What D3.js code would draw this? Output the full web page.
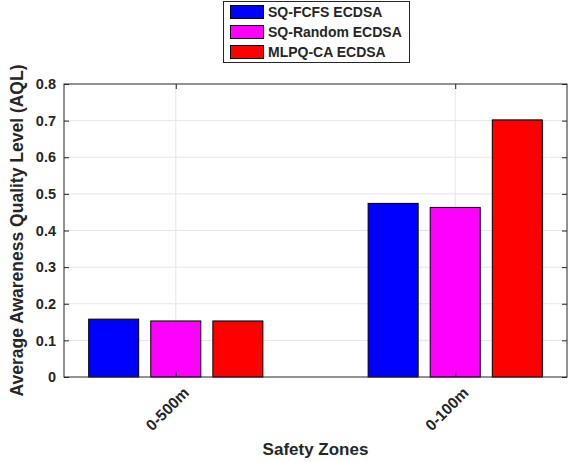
<!DOCTYPE html>
<html><head><meta charset="utf-8">
<script src="https://cdn.jsdelivr.net/npm/d3@7"></script>
<style>body{margin:0;background:#fff}svg{display:block}text{font-family:"Liberation Sans",Arial,sans-serif;font-weight:bold;fill:#262626}</style>
</head><body><svg id="c" width="572" height="462"></svg>
<script>
const categories = ["0-500m", "0-100m"];
const seriesNames = ["SQ-FCFS ECDSA", "SQ-Random ECDSA", "MLPQ-CA ECDSA"];
const seriesColors = ["#0000ff", "#ff00ff", "#ff0000"];
const fcfs = [0.158, 0.474];
const random = [0.153, 0.463];
const mlpq = [0.153, 0.702];
const yTicks = [0, 0.1, 0.2, 0.3, 0.4, 0.5, 0.6, 0.7, 0.8];
const series = [fcfs, random, mlpq];

const svg = d3.select("#c");
const L = 64, R = 567, T = 84, B = 377;
const x = d3.scaleLinear().domain([0.6, 2.4]).range([L, R]);
const y = d3.scaleLinear().domain([0, 0.8]).range([B, T]);
const off = 0.2222; // group offset in x units
const bw = 0.179;  // bar width in x units

// grid
svg.append("g").selectAll("line.h").data(yTicks.slice(1, -1)).join("line")
  .attr("x1", L).attr("x2", R).attr("y1", d => y(d)).attr("y2", d => y(d))
  .attr("stroke", "#e6e6e6").attr("stroke-width", 1);
svg.append("g").selectAll("line.v").data(categories).join("line")
  .attr("x1", (d, i) => x(i + 1)).attr("x2", (d, i) => x(i + 1)).attr("y1", T).attr("y2", B)
  .attr("stroke", "#e6e6e6").attr("stroke-width", 1);

// bars
series.forEach((vals, s) => {
  svg.append("g").selectAll("rect").data(vals).join("rect")
    .attr("x", (d, i) => x(i + 1 + (s - 1) * off - bw / 2))
    .attr("width", x(bw) - x(0))
    .attr("y", d => y(d))
    .attr("height", d => y(0) - y(d))
    .attr("fill", seriesColors[s]).attr("stroke", "#000").attr("stroke-width", 1);
});

// axes
const yAxis = d3.axisLeft(y).tickValues(yTicks).tickSize(-5).tickPadding(8).tickFormat(d => d === 0 ? "0" : d3.format(".1f")(d));
const gy = svg.append("g").attr("transform", `translate(${L},0)`).call(yAxis);
gy.selectAll("text").style("font-size", "14.5px");
const yAxisR = d3.axisRight(y).tickValues(yTicks).tickSize(-5).tickFormat("");
svg.append("g").attr("transform", `translate(${R},0)`).call(yAxisR);
const xAxis = d3.axisBottom(x).tickValues([1, 2]).tickSize(-5).tickFormat((d) => categories[d - 1]);
const gx = svg.append("g").attr("transform", `translate(0,${B})`).call(xAxis);
gx.selectAll("text").style("font-size", "15.5px").attr("text-anchor", "end")
  .attr("x", 0).attr("y", 0).attr("dy", "0.35em")
  .attr("transform", "translate(10,13) rotate(-45)");
const xAxisT = d3.axisTop(x).tickValues([1, 2]).tickSize(-5).tickFormat("");
svg.append("g").attr("transform", `translate(0,${T})`).call(xAxisT);
svg.selectAll(".tick line").attr("stroke", "#262626");
svg.selectAll(".domain").remove();
svg.append("rect").attr("x", L).attr("y", T).attr("width", R - L).attr("height", B - T)
  .attr("fill", "none").attr("stroke", "#262626").attr("stroke-width", 1);

// labels
svg.append("text").attr("x", (L + R) / 2).attr("y", 455).attr("text-anchor", "middle")
  .style("font-size", "17px").text("Safety Zones");
svg.append("text").attr("transform", `translate(23,${(T + B) / 2}) rotate(-90)`).attr("text-anchor", "middle")
  .style("font-size", "17.5px").text("Average Awareness Quality Level (AQL)");

// legend
const lg = svg.append("g");
lg.append("rect").attr("x", 223.5).attr("y", 1.5).attr("width", 186).attr("height", 61)
  .attr("fill", "#fff").attr("stroke", "#262626");
seriesNames.forEach((n, i) => {
  lg.append("rect").attr("x", 230.5).attr("y", 5.5 + i * 20).attr("width", 33).attr("height", 13)
    .attr("fill", seriesColors[i]).attr("stroke", "#000");
  lg.append("text").attr("x", 268).attr("y", 12 + i * 20).attr("dy", "0.35em")
    .style("font-size", "14px").text(n);
});
</script></body></html>
